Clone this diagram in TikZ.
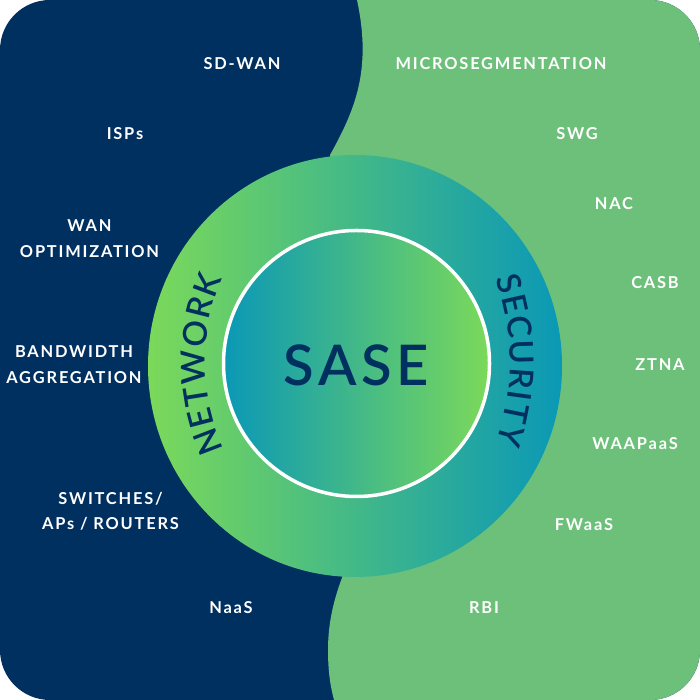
\documentclass[tikz,border=0pt]{standalone}
\usepackage{fontspec}
\setmainfont{Lato}
\newfontfamily\labelfont[LetterSpace=11]{Lato Bold}
\newfontfamily\curvefont{Lato Semibold}
\newfontfamily\titlefont[LetterSpace=8]{Lato Semibold}
\usepackage{xcolor}
\usepackage{tikz}
\usetikzlibrary{decorations.text}
\definecolor{navyblue}{HTML}{00305F}
\definecolor{softgreen}{HTML}{6DC07A}
\definecolor{limegreen}{HTML}{7BD95A}
\definecolor{tealblue}{HTML}{0A98B6}
\tikzset{
  item/.style={text=white,font=\labelfont\fontsize{16.4}{25.5}\selectfont,align=center,inner sep=0pt},
  curved/.style={decorate,decoration={text along path,text align={fit to path,right indent=4pt},text color=navyblue,
    text={|\curvefont\fontsize{33}{33}\selectfont|#1}}}
}
\begin{document}
\begin{tikzpicture}[x=1pt,y=1pt]
  \useasboundingbox (0,0) rectangle (700,700);
  \begin{scope}
    \clip[rounded corners=50pt] (0,0) rectangle (700,700);
    \fill[navyblue] (0,0) rectangle (700,700);
    \fill[softgreen] (357,700) .. controls (372,630) and (355,590) .. (330,545)
      -- (345,130) .. controls (335,105) and (328,80) .. (328,50)
      .. controls (328,30) and (330,15) .. (334,0)
      -- (700,0) -- (700,700) -- cycle;
  \end{scope}
  % rings
  \shade[left color=limegreen,right color=tealblue] (355,334) ellipse (207pt and 211pt);
  \shade[left color=tealblue,right color=limegreen,draw=white,line width=3.5pt] (356.5,336.5) circle (133pt);
  \node (title) at (356,335) {\titlefont\color{navyblue}\fontsize{56}{56}\selectfont SASE};
  \path[curved=NETWORK] (415,338) ++(204.5:210pt) arc[start angle=204.5,end angle=155.5,radius=210pt];
  \path[curved=SECURITY] (262,339) ++(19.5:248pt) arc[start angle=19.5,end angle=-20,radius=248pt];
  % left side
  \node[item] (sdwan) at (242,636) {SD-WAN};
  \node[item] (isps) at (125,566) {ISPs};
  \node[item] (wanopt) at (89.5,461.5) {WAN\\OPTIMIZATION};
  \node[item] (bandwidth) at (74,335.5) {BANDWIDTH\\AGGREGATION};
  \node[item] (switches) at (110.5,188.5) {SWITCHES/\\APs / ROUTERS};
  \node[item] (naas) at (231,92) {NaaS};
  % right side
  \node[item] (microseg) at (501,636) {MICROSEGMENTATION};
  \node[item] (swg) at (577,566) {SWG};
  \node[item] (nac) at (614,496) {NAC};
  \node[item] (casb) at (655,417) {CASB};
  \node[item] (ztna) at (660,335) {ZTNA};
  \node[item] (waap) at (635,256) {WAAPaaS};
  \node[item] (fwaas) at (584,175) {FWaaS};
  \node[item] (rbi) at (484,92) {RBI};
\end{tikzpicture}
\end{document}
